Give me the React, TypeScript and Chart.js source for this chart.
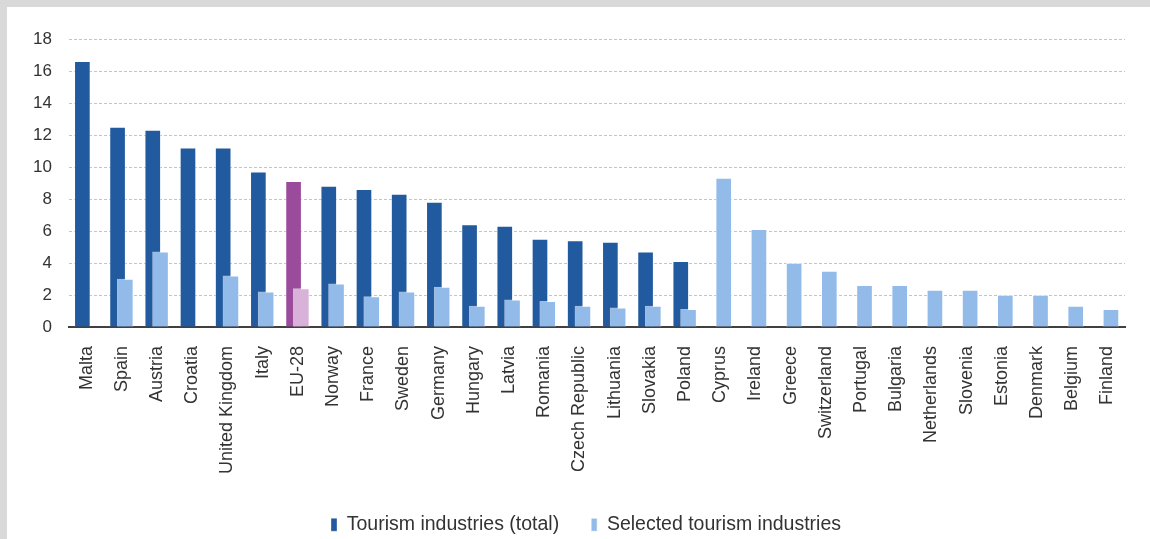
import React, { useEffect, useRef } from 'react';
import { Chart, registerables } from 'chart.js';

Chart.register(...registerables);

const categories = [
  'Malta', 'Spain', 'Austria', 'Croatia', 'United Kingdom', 'Italy', 'EU-28', 'Norway', 'France', 'Sweden',
  'Germany', 'Hungary', 'Latvia', 'Romania', 'Czech Republic', 'Lithuania', 'Slovakia', 'Poland', 'Cyprus', 'Ireland',
  'Greece', 'Switzerland', 'Portugal', 'Bulgaria', 'Netherlands', 'Slovenia', 'Estonia', 'Denmark', 'Belgium', 'Finland',
];

const totalValues = [
  16.6, 12.5, 12.3, 11.2, 11.2, 9.7, 9.1, 8.8, 8.6, 8.3,
  7.8, 6.4, 6.3, 5.5, 5.4, 5.3, 4.7, 4.1, null, null,
  null, null, null, null, null, null, null, null, null, null,
];

const selectedValues = [
  null, 3.0, 4.7, null, 3.2, 2.2, 2.4, 2.7, 1.9, 2.2,
  2.5, 1.3, 1.7, 1.6, 1.3, 1.2, 1.3, 1.1, 9.3, 6.1,
  4.0, 3.5, 2.6, 2.6, 2.3, 2.3, 2.0, 2.0, 1.3, 1.1,
];

const seriesLabels = ['Tourism industries (total)', 'Selected tourism industries'];
const highlightCategory = 'EU-28';
const yMin = 0;
const yMax = 18;
const yStep = 2;

const FONT = '"Liberation Sans", Arial, sans-serif';

export default function App() {
  const canvasRef = useRef<HTMLCanvasElement | null>(null);

  useEffect(() => {
    const hi = categories.indexOf(highlightCategory);
    const n = categories.length;
    Chart.defaults.font.family = FONT;

    const chart = new Chart(canvasRef.current as HTMLCanvasElement, {
      type: 'bar',
      data: {
        labels: categories,
        datasets: [
          {
            label: seriesLabels[0],
            data: totalValues.map((v, i) => ({ x: i - 0.12, y: v })),
            xAxisID: 'xb',
            yAxisID: 'y',
            order: 1,
            backgroundColor: (c: any) => (c.type === 'data' && c.dataIndex === hi ? '#9a4b9b' : '#215a9f'),
            borderColor: 'rgba(255,255,255,0.35)',
            borderWidth: 1,
          },
          {
            label: seriesLabels[1],
            data: selectedValues.map((v, i) => ({ x: i + 0.1, y: v })),
            xAxisID: 'xb',
            yAxisID: 'y',
            order: 0,
            backgroundColor: (c: any) => (c.type === 'data' && c.dataIndex === hi ? '#d9b2da' : '#93bbe9'),
            borderColor: 'rgba(255,255,255,0.6)',
            borderWidth: 1,
          },
        ] as any,
      },
      options: {
        responsive: true,
        maintainAspectRatio: false,
        animation: false,
        layout: { padding: { left: 20, right: 5, top: 32, bottom: 0 } },
        datasets: { bar: { grouped: false, barThickness: 16 } } as any,
        scales: {
          x: {
            type: 'category',
            offset: true,
            position: 'bottom',
            z: 1,
            grid: { display: false },
            border: { display: true, color: '#404040', width: 2 },
            ticks: {
              autoSkip: false,
              minRotation: 90,
              maxRotation: 90,
              padding: 11,
              color: '#333333',
              font: { size: 18, family: FONT },
            },
            afterFit: (s: any) => {
              s.height = 156;
            },
          },
          xb: {
            type: 'linear',
            display: false,
            offset: false,
            min: -0.5,
            max: n - 0.5,
          },
          y: {
            position: 'left',
            min: yMin,
            max: yMax,
            ticks: { stepSize: yStep, padding: 17, color: '#333333', font: { size: 17, family: FONT } },
            grid: { color: '#c4c4c4', drawTicks: false, lineWidth: 1 },
            border: { display: false, dash: [3, 2] },
            afterFit: (s: any) => {
              s.width = 42;
            },
          },
          yr: {
            type: 'linear',
            position: 'right',
            display: true,
            ticks: { display: false },
            grid: { display: false, drawTicks: false },
            border: { display: false },
            afterFit: (s: any) => {
              s.width = 20;
            },
          },
        } as any,
        plugins: {
          legend: {
            position: 'bottom',
            maxHeight: 56,
            labels: {
              boxWidth: 6,
              boxHeight: 13,
              padding: 32,
              color: '#333333',
              font: { size: 19.5, family: FONT },
              sort: (a: any, b: any) => a.datasetIndex - b.datasetIndex,
            },
          } as any,
          tooltip: { enabled: false },
        },
      },
    });
    return () => chart.destroy();
  }, []);

  return (
    <div style={{ position: 'absolute', left: 0, top: 0, width: 1150, height: 539, background: '#d9d9d9' }}>
      <div style={{ position: 'absolute', left: 7, top: 7, width: 1143, height: 532, background: '#ffffff' }}>
        <canvas ref={canvasRef} />
      </div>
    </div>
  );
}
